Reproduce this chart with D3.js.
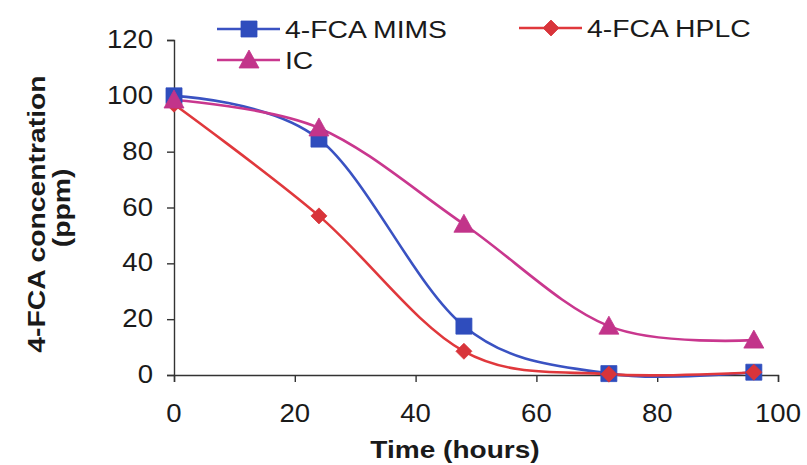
<!DOCTYPE html>
<html>
<head>
<meta charset="utf-8">
<script src="https://cdn.jsdelivr.net/npm/d3@7"></script>
<style>
  html, body { margin: 0; padding: 0; background: #ffffff; }
  svg { display: block; }
  text { font-family: "Liberation Sans", Arial, sans-serif; fill: #1a1a1a; }
</style>
</head>
<body>
<svg id="chart" width="807" height="465"></svg>
<script>
// Sampling times (hours)
const hours = [0, 24, 48, 72, 96];

// 4-FCA concentration (ppm) by method
const mims = [100, 84.5, 17.5, 0.5, 1];
const hplc = [97, 57, 8.5, 0.3, 1];
const ic   = [98.5, 88.5, 54, 17.5, 12.5];

const seriesNames  = ["4-FCA MIMS", "4-FCA HPLC", "IC"];
const seriesColors = ["#3a52c2", "#e0383c", "#c9378e"];
const markerFills  = ["#2f4dbd", "#d8343a", "#c2348a"];
const markerTypes  = ["square", "diamond", "triangle"];

const xTicks = [0, 20, 40, 60, 80, 100];
const yTicks = [0, 20, 40, 60, 80, 100, 120];

const xTitle = "Time (hours)";
const yTitleLines = ["4-FCA concentration", "(ppm)"];

const series = [mims, hplc, ic].map((vals, i) => ({
  name: seriesNames[i],
  color: seriesColors[i],
  fill: markerFills[i],
  marker: markerTypes[i],
  points: hours.map((h, j) => ({ x: h, y: vals[j] }))
}));

const svg = d3.select("#chart");
const stretch = 1.18;
const tickStretch = 1.06;

const x = d3.scaleLinear().domain([0, 100]).range([174, 778]);
const y = d3.scaleLinear().domain([0, 120]).range([375, 40]);

// Axes
const axisColor = "#333";
const xAxis = d3.axisBottom(x).tickValues(xTicks).tickSize(7).tickFormat("");
const yAxis = d3.axisLeft(y).tickValues(yTicks).tickSize(7).tickFormat("");

const gx = svg.append("g").attr("transform", `translate(0,${y(0)})`).call(xAxis);
const gy = svg.append("g").attr("transform", `translate(${x(0)},0)`).call(yAxis);
[gx, gy].forEach(g => {
  g.select(".domain").attr("stroke", axisColor).attr("stroke-width", 1.4);
  g.selectAll(".tick line").attr("stroke", axisColor).attr("stroke-width", 1.4);
});

// Tick labels
svg.append("g").selectAll("text").data(yTicks).join("text")
  .attr("transform", d => `translate(153,${y(d) + 8}) scale(${tickStretch},1)`)
  .attr("text-anchor", "end")
  .style("font-size", "26px")
  .text(d => d);

svg.append("g").selectAll("text").data(xTicks).join("text")
  .attr("transform", d => `translate(${x(d)},${y(0) + 47}) scale(${tickStretch},1)`)
  .attr("text-anchor", "middle")
  .style("font-size", "26px")
  .text(d => d);

// Axis titles
svg.append("text")
  .attr("transform", `translate(455,458) scale(1.22,1)`)
  .attr("text-anchor", "middle")
  .style("font-size", "23px").style("font-weight", "bold")
  .text(xTitle);

svg.append("g").selectAll("text").data(yTitleLines).join("text")
  .attr("transform", (d, i) => `translate(${45 + i * 25},${214 - i * 6}) rotate(-90) scale(${stretch},1)`)
  .attr("text-anchor", "middle")
  .style("font-size", "24px").style("font-weight", "bold")
  .text(d => d);

// Marker shapes
function markerPath(type) {
  if (type === "square") return d3.symbol(d3.symbolSquare, 256)();
  if (type === "diamond") return "M0,-8L8,0L0,8L-8,0Z";
  return "M0,-10L10,8L-10,8Z";
}

// Smoothed lines
const line = d3.line()
  .x(d => x(d.x))
  .y(d => y(d.y))
  .curve(d3.curveCatmullRom.alpha(0));

series.forEach(s => {
  svg.append("path")
    .datum(s.points)
    .attr("d", line)
    .attr("fill", "none")
    .attr("stroke", s.color)
    .attr("stroke-width", 2.6);
});

series.forEach(s => {
  svg.append("g").selectAll("path").data(s.points).join("path")
    .attr("transform", d => `translate(${x(d.x)},${y(d.y)})`)
    .attr("d", markerPath(s.marker))
    .attr("fill", s.fill)
    .attr("stroke", s.fill)
    .attr("stroke-width", 0.8);
});

// Legend
const legendItems = [
  { s: series[0], lx: 217, ly: 29 },
  { s: series[1], lx: 519, ly: 28 },
  { s: series[2], lx: 217, ly: 60 }
];
const lg = svg.append("g");
legendItems.forEach(({ s, lx, ly }) => {
  lg.append("line")
    .attr("x1", lx).attr("x2", lx + 63)
    .attr("y1", ly).attr("y2", ly)
    .attr("stroke", s.color).attr("stroke-width", 2.6);
  lg.append("path")
    .attr("transform", `translate(${lx + 32},${ly})`)
    .attr("d", markerPath(s.marker))
    .attr("fill", s.fill).attr("stroke", s.fill).attr("stroke-width", 0.8);
  lg.append("text")
    .attr("transform", `translate(${lx + 68},${ly + 9}) scale(${stretch},1)`)
    .style("font-size", "24px")
    .text(s.name);
});
</script>
</body>
</html>
